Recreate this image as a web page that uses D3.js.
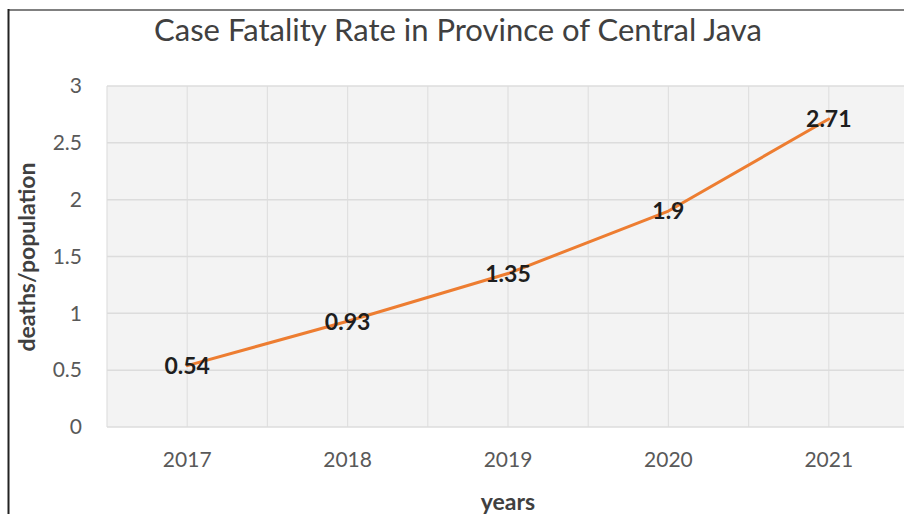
<!DOCTYPE html>
<html>
<head>
<meta charset="utf-8">
<script src="https://cdn.jsdelivr.net/npm/d3@7"></script>
<style>
  html, body { margin: 0; padding: 0; background: #fff; }
  svg { display: block; }
  text { font-family: Lato, "Open Sans", sans-serif; }
</style>
</head>
<body>
<script>
const years = ["2017", "2018", "2019", "2020", "2021"];
const rates = [0.54, 0.93, 1.35, 1.9, 2.71];
const rateLabels = ["0.54", "0.93", "1.35", "1.9", "2.71"];
const yTicks = [0, 0.5, 1, 1.5, 2, 2.5, 3];
const yTickLabels = ["0", "0.5", "1", "1.5", "2", "2.5", "3"];
const titleText = "Case Fatality Rate in Province of Central Java";
const xTitle = "years";
const yTitle = "deaths/population";

const W = 904, H = 514;
const svg = d3.select("body").append("svg").attr("width", W).attr("height", H);

const plot = { left: 107, right: 909, top: 86, bottom: 427 };

const x = d3.scaleBand().domain(years).range([plot.left, plot.right]).padding(0);
const y = d3.scaleLinear().domain([0, 3]).range([plot.bottom, plot.top]);

// plot background
svg.append("rect")
  .attr("x", plot.left).attr("y", plot.top)
  .attr("width", plot.right - plot.left).attr("height", plot.bottom - plot.top)
  .attr("fill", "#f3f3f3");

// vertical gridlines: at category centers and boundaries
const vx = [];
years.forEach(d => { vx.push(x(d)); vx.push(x(d) + x.bandwidth() / 2); });
svg.append("g").selectAll("line").data(vx).join("line")
  .attr("x1", d => d).attr("x2", d => d)
  .attr("y1", plot.top).attr("y2", plot.bottom)
  .attr("stroke", "#e0e0e0").attr("stroke-width", 1.2);

// horizontal gridlines
svg.append("g").selectAll("line").data(yTicks).join("line")
  .attr("x1", plot.left).attr("x2", plot.right)
  .attr("y1", d => y(d)).attr("y2", d => y(d))
  .attr("stroke", "#dcdcdc").attr("stroke-width", 1.5);

// y axis labels
const yAxis = d3.axisLeft(y).tickValues(yTicks)
  .tickFormat((d, i) => yTickLabels[i]).tickSize(0).tickPadding(25);
const gy = svg.append("g").attr("transform", `translate(${plot.left},0)`).call(yAxis);
gy.select(".domain").remove();
gy.selectAll("text").attr("font-size", 21).attr("fill", "#595959")
  .style("font-family", "Lato, 'Open Sans', sans-serif");

// x axis labels
const xAxis = d3.axisBottom(x).tickSize(0).tickPadding(25);
const gx = svg.append("g").attr("transform", `translate(0,${plot.bottom})`).call(xAxis);
gx.select(".domain").remove();
gx.selectAll("text").attr("font-size", 21).attr("fill", "#595959")
  .style("font-family", "Lato, 'Open Sans', sans-serif");

// line
const cx = d => x(d) + x.bandwidth() / 2;
const line = d3.line().x((d, i) => cx(years[i])).y(d => y(d));
svg.append("path").datum(rates)
  .attr("d", line)
  .attr("fill", "none")
  .attr("stroke", "#ED7D31")
  .attr("stroke-width", 3)
  .attr("stroke-linejoin", "round")
  .attr("stroke-linecap", "round");

// data labels
svg.append("g").selectAll("text").data(rates).join("text")
  .attr("x", (d, i) => cx(years[i]))
  .attr("y", d => y(d))
  .attr("dy", "0.36em")
  .attr("text-anchor", "middle")
  .attr("font-size", 23)
  .attr("font-weight", "bold")
  .attr("fill", "#1e1e1e")
  .text((d, i) => rateLabels[i]);

// title
svg.append("text")
  .attr("x", 458).attr("y", 41)
  .attr("text-anchor", "middle")
  .attr("font-size", 31)
  .attr("fill", "#404040")
  .text(titleText);

// axis titles
svg.append("text")
  .attr("x", (plot.left + plot.right) / 2).attr("y", 510)
  .attr("text-anchor", "middle")
  .attr("font-size", 23)
  .attr("font-weight", "bold")
  .attr("fill", "#404040")
  .text(xTitle);

svg.append("text")
  .attr("transform", `translate(35,257) rotate(-90)`)
  .attr("text-anchor", "middle")
  .attr("font-size", 23)
  .attr("font-weight", "bold")
  .attr("fill", "#404040")
  .text(yTitle);

// frame lines
svg.append("line").attr("x1", 8).attr("x2", W).attr("y1", 10).attr("y2", 10)
  .attr("stroke", "#808080").attr("stroke-width", 2);
svg.append("line").attr("x1", 8.5).attr("x2", 8.5).attr("y1", 9).attr("y2", H)
  .attr("stroke", "#222").attr("stroke-width", 2);
</script>
</body>
</html>
